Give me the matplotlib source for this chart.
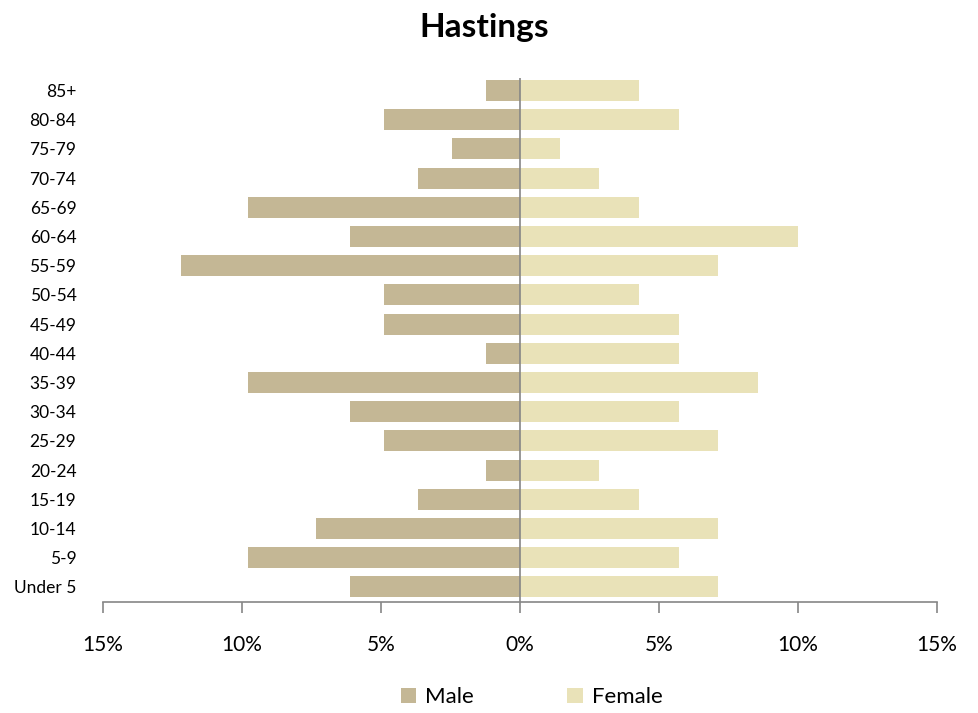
import numpy as np
import matplotlib.pyplot as plt
from matplotlib.ticker import FuncFormatter

plt.rcParams['font.family'] = ['Lato', 'DejaVu Sans']

ages = ["Under 5", "5-9", "10-14", "15-19", "20-24", "25-29", "30-34", "35-39",
        "40-44", "45-49", "50-54", "55-59", "60-64", "65-69", "70-74", "75-79",
        "80-84", "85+"]
male = [6.10, 9.76, 7.32, 3.66, 1.22, 4.88, 6.10, 9.76, 1.22, 4.88, 4.88,
        12.20, 6.10, 9.76, 3.66, 2.44, 4.88, 1.22]
female = [7.14, 5.71, 7.14, 4.29, 2.86, 7.14, 5.71, 8.57, 5.71, 5.71, 4.29,
          7.14, 10.00, 4.29, 2.86, 1.43, 5.71, 4.29]

male_col = "#C4B795"
female_col = "#E9E2B8"

fig = plt.figure(figsize=(9.79, 7.13), dpi=100)
ax = fig.add_axes([0.105, 0.156, 0.852, 0.735])

y = np.arange(len(ages))
ax.barh(y, [-m for m in male], height=0.72, color=male_col, label="Male")
ax.barh(y, female, height=0.72, color=female_col, label="Female")

ax.set_xlim(-15, 15)
ax.set_ylim(-0.51, 17.44)
ax.set_xticks([-15, -10, -5, 0, 5, 10, 15])
ax.xaxis.set_major_formatter(FuncFormatter(lambda v, p: "%d%%" % abs(v)))
ax.set_yticks(y)
ax.set_yticklabels(ages)
ax.tick_params(axis='y', length=0, labelsize=12.5, pad=19)
ax.tick_params(axis='x', length=8, width=1.2, color="#868686", labelsize=15, pad=16,
               direction='out')

for s in ["top", "right", "left"]:
    ax.spines[s].set_visible(False)
ax.spines["bottom"].set_color("#868686")
ax.spines["bottom"].set_linewidth(1.2)
ax.axvline(0, color="#868686", lw=1.2)

fig.text(0.495, 0.962, "Hastings", ha="center", va="center", fontsize=24, fontweight="bold")

leg = fig.legend(loc="center", bbox_to_anchor=(0.543, 0.022), ncol=2, frameon=False,
                 fontsize=16, handlelength=0.7, handleheight=0.7, columnspacing=4.2,
                 handletextpad=0.4)

fig.savefig("out.png", dpi=100)
